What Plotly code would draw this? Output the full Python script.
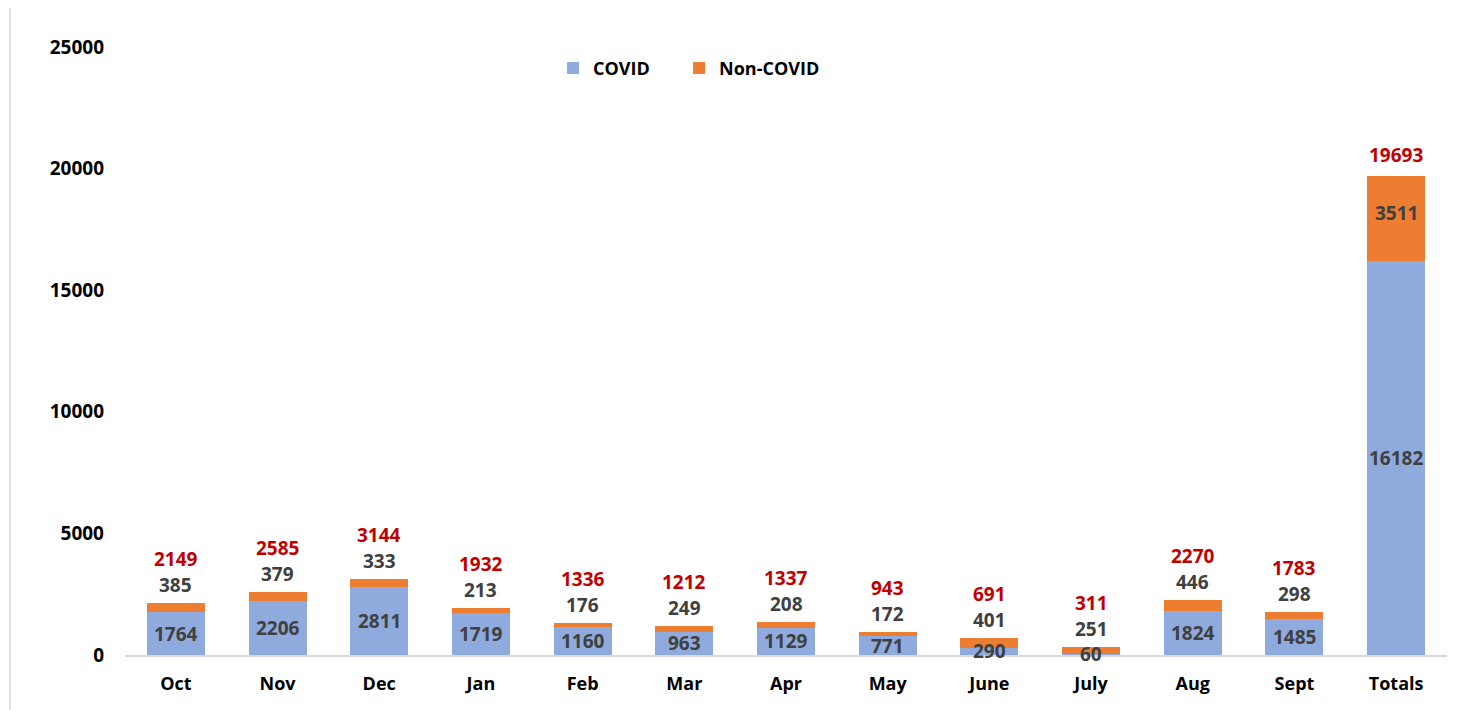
import plotly.graph_objects as go

months = ["Oct", "Nov", "Dec", "Jan", "Feb", "Mar", "Apr", "May", "June", "July", "Aug", "Sept", "Totals"]
covid = [1764, 2206, 2811, 1719, 1160, 963, 1129, 771, 290, 60, 1824, 1485, 16182]
non_covid = [385, 379, 333, 213, 176, 249, 208, 172, 401, 251, 446, 298, 3511]
totals = [2149, 2585, 3144, 1932, 1336, 1212, 1337, 943, 691, 311, 2270, 1783, 19693]

BLUE = "#8FAADC"
ORANGE = "#ED7D31"
RED = "#C00000"
GREY = "#404040"
FONT = "Open Sans"
YMAX = 25000
PLOT_H = 608
LBL = 19

fig = go.Figure()
fig.add_trace(go.Bar(x=months, y=covid, name="<b>COVID</b>", legend="legend", showlegend=True,
                     marker=dict(color=BLUE, line=dict(width=0))))
fig.add_trace(go.Bar(x=months, y=non_covid, name="<b>Non-COVID</b>", legend="legend2", showlegend=True,
                     marker=dict(color=ORANGE, line=dict(width=0))))

ann = []
for m, c, n, t in zip(months, covid, non_covid, totals):
    ann.append(dict(x=m, y=c / 2, text=f"<b>{c}</b>", showarrow=False, yanchor="middle",
                    font=dict(family=FONT, size=LBL, color=GREY)))
    seg_px = n / YMAX * PLOT_H
    if seg_px > 24:
        ann.append(dict(x=m, y=c + n / 2, text=f"<b>{n}</b>", showarrow=False, yanchor="middle", yshift=6,
                        font=dict(family=FONT, size=LBL, color=GREY)))
        ann.append(dict(x=m, y=t, text=f"<b>{t}</b>", showarrow=False, yanchor="bottom", yshift=6,
                        font=dict(family=FONT, size=LBL, color=RED)))
    else:
        ann.append(dict(x=m, y=t, text=f"<b>{n}</b>", showarrow=False, yanchor="bottom", yshift=3,
                        font=dict(family=FONT, size=LBL, color=GREY)))
        ann.append(dict(x=m, y=t, text=f"<b>{t}</b>", showarrow=False, yanchor="bottom", yshift=29,
                        font=dict(family=FONT, size=LBL, color=RED)))

leg_common = dict(orientation="h", xanchor="left", y=0.965, yanchor="middle", visible=True,
                  font=dict(family=FONT, size=18, color="black"), itemwidth=30,
                  bgcolor="rgba(0,0,0,0)")

fig.update_layout(
    width=1475, height=710,
    barmode="stack",
    bargap=0.43,
    showlegend=True,
    plot_bgcolor="white", paper_bgcolor="white",
    margin=dict(l=117, r=36, t=39, b=63),
    font=dict(family=FONT, color="black"),
    legend=dict(x=0.3238, **leg_common),
    legend2=dict(x=0.4191, **leg_common),
    annotations=ann,
    shapes=[dict(type="line", xref="paper", yref="paper", x0=-0.087, x1=-0.087, y0=-0.2, y1=1.2,
                 line=dict(color="#D9D9D9", width=1.5))],
)
fig.update_xaxes(showline=True, linecolor="#D9D9D9", linewidth=1.5, showgrid=False,
                 tickfont=dict(family=FONT, size=18, color="black"), ticklabelstandoff=12,
                 tickprefix="<b>", ticksuffix="</b>")
fig.update_yaxes(range=[0, YMAX], dtick=5000, tick0=0, tickformat="d", showline=False, showgrid=False,
                 zeroline=False, tickfont=dict(family=FONT, size=19, color="black"), ticklabelstandoff=20,
                 tickprefix="<b>", ticksuffix="</b>")

fig.write_html("out.html")
